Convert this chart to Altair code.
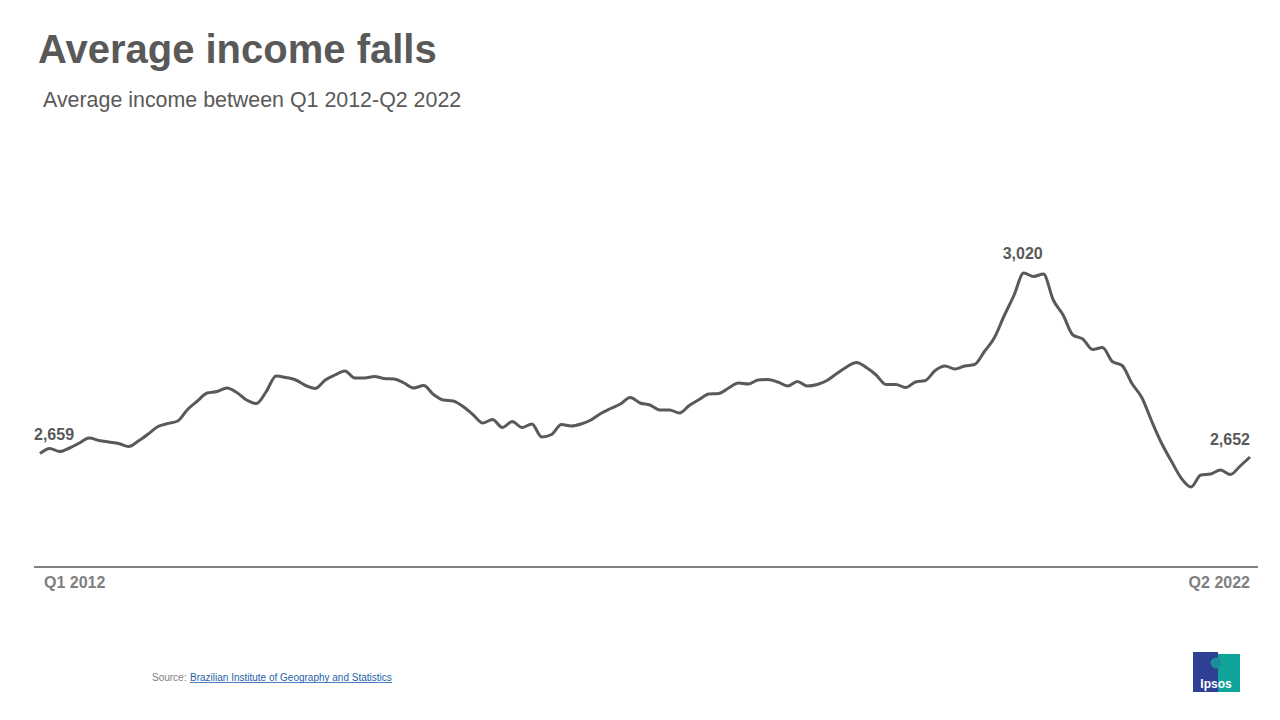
import altair as alt
import pandas as pd

# Average income (BRL), rolling quarters Q1 2012 .. Q2 2022
income = [
    2659, 2669, 2663, 2670, 2680, 2690, 2685, 2682, 2679, 2673,
    2684, 2698, 2713, 2719, 2724, 2747, 2764, 2780, 2783, 2790,
    2781, 2766, 2759, 2783, 2814, 2811, 2806, 2795, 2789, 2806,
    2816, 2824, 2810, 2810, 2813, 2809, 2808, 2800, 2790, 2795,
    2777, 2766, 2764, 2753, 2737, 2720, 2727, 2711, 2723, 2711,
    2718, 2692, 2697, 2717, 2714, 2718, 2726, 2739, 2749, 2758,
    2771, 2760, 2756, 2746, 2746, 2740, 2755, 2767, 2778, 2779,
    2790, 2800, 2798, 2806, 2807, 2802, 2794, 2803, 2794, 2797,
    2805, 2819, 2832, 2841, 2831, 2816, 2797, 2797, 2791, 2802,
    2805, 2825, 2834, 2828, 2834, 2837, 2863, 2890, 2934, 2975,
    3020, 3013, 3018, 2966, 2936, 2896, 2888, 2867, 2871, 2843,
    2835, 2799, 2771, 2724, 2680, 2644, 2610, 2592, 2616, 2618,
    2626, 2617, 2634, 2652,
]
axis_labels = ["Q1 2012", "Q2 2022"]
label_points = [0, 100, 123]
label_texts = ["2,659", "3,020", "2,652"]

df = pd.DataFrame({"i": list(range(len(income))), "v": income})
lab = pd.DataFrame({"i": label_points, "v": [income[k] for k in label_points], "t": label_texts})

FONT = "Liberation Sans"
DARK = "#595959"
W, H = 1210, 448
N = len(income) - 1

xs = alt.Scale(domain=[0, N], nice=False, zero=False)
ys = alt.Scale(domain=[2434, 3330], nice=False, zero=False)
X = alt.X("i:Q", scale=xs, axis=None)
Y = alt.Y("v:Q", scale=ys, axis=None)

line = alt.Chart(df).mark_line(color=DARK, strokeWidth=3, interpolate="monotone").encode(x=X, y=Y)

lab_first = alt.Chart(lab.iloc[[0]]).mark_text(
    font=FONT, fontSize=16, fontWeight="bold", color=DARK, align="left", baseline="alphabetic", dx=-6, dy=-14
).encode(x=X, y=Y, text="t:N")
lab_peak = alt.Chart(lab.iloc[[1]]).mark_text(
    font=FONT, fontSize=16, fontWeight="bold", color=DARK, align="center", baseline="alphabetic", dx=-1, dy=-14
).encode(x=X, y=Y, text="t:N")
lab_last = alt.Chart(lab.iloc[[2]]).mark_text(
    font=FONT, fontSize=16, fontWeight="bold", color=DARK, align="right", baseline="alphabetic", dx=0, dy=-12
).encode(x=X, y=Y, text="t:N")

base_rule = alt.Chart(df.iloc[[0]]).mark_rule(color="#808080", strokeWidth=2).encode(
    x=alt.value(-6), x2=alt.value(1218), y=alt.value(449)
)

ax_l = alt.Chart(pd.DataFrame({"t": [axis_labels[0]]})).mark_text(
    font=FONT, fontSize=16, fontWeight="bold", color="#7f7f7f", align="left", baseline="alphabetic"
).encode(x=alt.value(4), y=alt.value(470), text="t:N")
ax_r = alt.Chart(pd.DataFrame({"t": [axis_labels[1]]})).mark_text(
    font=FONT, fontSize=16, fontWeight="bold", color="#7f7f7f", align="right", baseline="alphabetic"
).encode(x=alt.value(1210), y=alt.value(470), text="t:N")

title = alt.Chart(pd.DataFrame({"t": ["Average income falls"]})).mark_text(
    font=FONT, fontSize=40, fontWeight="bold", color=DARK, align="left", baseline="alphabetic"
).encode(x=alt.value(-2), y=alt.value(-55), text="t:N")
subtitle = alt.Chart(pd.DataFrame({"t": ["Average income between Q1 2012-Q2 2022"]})).mark_text(
    font=FONT, fontSize=21.4, color=DARK, align="left", baseline="alphabetic"
).encode(x=alt.value(3), y=alt.value(-11), text="t:N")

src1 = alt.Chart(pd.DataFrame({"t": ["Source:"]})).mark_text(
    font=FONT, fontSize=10, color="#808080", align="left", baseline="alphabetic"
).encode(x=alt.value(112), y=alt.value(563), text="t:N")
src2 = alt.Chart(pd.DataFrame({"t": ["Brazilian Institute of Geography and Statistics"]})).mark_text(
    font=FONT, fontSize=10, color="#1f5fa8", align="left", baseline="alphabetic"
).encode(x=alt.value(150), y=alt.value(563), text="t:N")
src_ul = alt.Chart(df.iloc[[0]]).mark_rule(color="#1f5fa8", strokeWidth=0.8).encode(
    x=alt.value(150), x2=alt.value(352), y=alt.value(564.5)
)

logo_blue = alt.Chart(df.iloc[[0]]).mark_rect(color="#2e3f96").encode(
    x=alt.value(1153), x2=alt.value(1178), y=alt.value(534), y2=alt.value(574)
)
logo_teal = alt.Chart(df.iloc[[0]]).mark_rect(color="#0fa39a").encode(
    x=alt.value(1178), x2=alt.value(1200), y=alt.value(536), y2=alt.value(574)
)
logo_head = alt.Chart(df.iloc[[0]]).mark_point(filled=True, color="#1a8f9a", size=120, opacity=1).encode(
    x=alt.value(1176), y=alt.value(545)
)
logo_txt = alt.Chart(pd.DataFrame({"t": ["Ipsos"]})).mark_text(
    font=FONT, fontSize=12, fontWeight="bold", color="white", align="center", baseline="alphabetic"
).encode(x=alt.value(1176), y=alt.value(570), text="t:N")

chart = alt.layer(
    base_rule, line, lab_first, lab_peak, lab_last, ax_l, ax_r, title, subtitle,
    src1, src2, src_ul, logo_blue, logo_teal, logo_head, logo_txt
).properties(
    width=W, height=H,
    autosize=alt.AutoSizeParams(type="none"),
    padding={"left": 32, "top": 110, "right": 22, "bottom": 146},
    background="white",
).configure_view(stroke=None)

chart.save("out.html", embed_options={"renderer": "svg", "actions": False})
